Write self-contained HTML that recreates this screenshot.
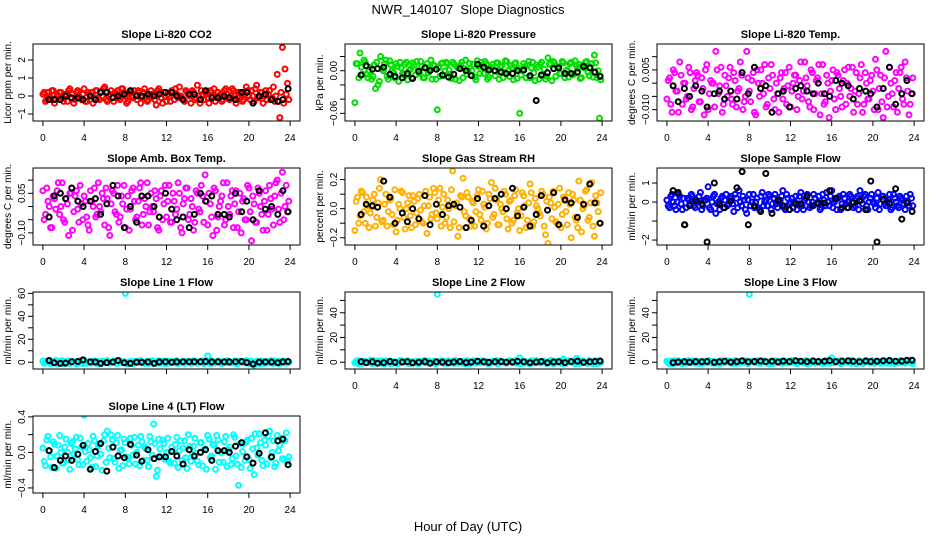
<!DOCTYPE html>
<html><head><meta charset="utf-8"><title>NWR_140107 Slope Diagnostics</title>
<style>
html,body{margin:0;padding:0;background:#fff;}
svg{display:block;font-family:"Liberation Sans",Arial,sans-serif;}
</style></head>
<body>
<svg id="chart" width="936" height="540" viewBox="0 0 936 540" xmlns="http://www.w3.org/2000/svg">
<rect x="0" y="0" width="936" height="540" fill="#fff"/>
<text x="468" y="14" text-anchor="middle" font-size="13">NWR_140107&#160; Slope Diagnostics</text>
<text x="468" y="531" text-anchor="middle" font-size="13">Hour of Day (UTC)</text>
</svg>
<script>
// ---- shared time data ----
const hours = [0,0.25,0.5,0.75,1,1.25,1.5,1.75,2,2.25,2.5,2.75,3,3.25,3.5,3.75,4,4.25,4.5,4.75,5,5.25,5.5,5.75,6,6.25,6.5,6.75,7,7.25,7.5,7.75,8,8.25,8.5,8.75,9,9.25,9.5,9.75,10,10.25,10.5,10.75,11,11.25,11.5,11.75,12,12.25,12.5,12.75,13,13.25,13.5,13.75,14,14.25,14.5,14.75,15,15.25,15.5,15.75,16,16.25,16.5,16.75,17,17.25,17.5,17.75,18,18.25,18.5,18.75,19,19.25,19.5,19.75,20,20.25,20.5,20.75,21,21.25,21.5,21.75,22,22.25,22.5,22.75,23,23.25,23.5,23.75];
const hours2 = [0.125,0.375,0.625,0.875,1.125,1.375,1.625,1.875,2.125,2.375,2.625,2.875,3.125,3.375,3.625,3.875,4.125,4.375,4.625,4.875,5.125,5.375,5.625,5.875,6.125,6.375,6.625,6.875,7.125,7.375,7.625,7.875,8.125,8.375,8.625,8.875,9.125,9.375,9.625,9.875,10.125,10.375,10.625,10.875,11.125,11.375,11.625,11.875,12.125,12.375,12.625,12.875,13.125,13.375,13.625,13.875,14.125,14.375,14.625,14.875,15.125,15.375,15.625,15.875,16.125,16.375,16.625,16.875,17.125,17.375,17.625,17.875,18.125,18.375,18.625,18.875,19.125,19.375,19.625,19.875,20.125,20.375,20.625,20.875,21.125,21.375,21.625,21.875,22.125,22.375,22.625,22.875,23.125,23.375,23.625,23.875];
const blackHours = [0.6,1.1,1.7,2.2,2.8,3.4,3.9,4.6,5.1,5.6,6.2,6.8,7.3,7.9,8.5,9.1,9.6,10.2,10.8,11.3,11.9,12.5,13.0,13.6,14.2,14.7,15.3,15.8,16.4,17.0,17.6,18.1,18.7,19.3,19.8,20.4,21.0,21.6,22.2,22.8,23.3,23.8];
const xTicks = [0,4,8,12,16,20,24];

// ---- series values ----
const co2Vals = [0.1,-0.3,0.2,-0.1,0.3,-0.2,0.0,0.2,-0.3,0.1,0.3,-0.1,
-0.4,0.2,0.0,-0.2,0.4,-0.3,0.1,0.2,-0.1,0.3,-0.2,0.0,
0.5,-0.3,0.1,-0.1,0.2,0.3,-0.2,0.4,0.0,-0.3,0.2,-0.1,
0.1,0.3,-0.4,0.2,0.0,-0.2,0.3,0.1,-0.5,0.4,-0.1,0.2,
-0.3,0.0,0.3,-0.2,0.1,0.5,-0.1,-0.3,0.2,0.0,0.3,-0.2,
0.6,-0.4,0.1,0.2,-0.1,0.3,0.0,-0.3,0.2,0.1,-0.2,0.4,
-0.1,0.0,0.3,-0.4,0.2,0.1,-0.2,0.5,0.0,0.3,-0.3,0.6,
-0.1,0.2,0.0,-0.2,0.3,-0.1,-0.3,1.2,-1.2,2.7,1.5,0.7];
const co2Vals2 = [0.2,-0.2,0.0,0.3,-0.4,0.1,0.2,-0.1,0.0,-0.3,0.4,0.1,
-0.2,0.3,-0.1,0.1,-0.3,0.2,0.0,-0.4,0.3,-0.1,0.2,0.4,
-0.2,0.0,0.3,-0.3,0.1,-0.1,0.4,0.2,-0.4,0.1,0.0,0.3,
-0.2,0.2,-0.1,0.4,-0.3,0.0,0.1,-0.2,0.3,0.2,-0.4,0.0,
0.1,-0.3,0.2,0.4,-0.1,0.0,-0.2,0.3,0.1,-0.4,0.2,-0.1,
0.0,0.3,-0.2,0.1,-0.4,0.2,0.4,-0.1,0.0,-0.3,0.3,0.1,
-0.2,0.4,0.0,-0.1,0.2,-0.3,0.1,0.3,-0.2,0.0,0.4,-0.1,
0.2,-0.4,0.3,0.1,-0.2,0.5,0.0,-0.3,0.2,-0.4,0.1,-0.2];
const co2Black = [-0.2,-0.2,-0.2,0.0,-0.1,-0.1,-0.2,0.0,-0.2,0.2,0.2,-0.1,
0.0,0.1,0.3,0.0,0.0,0.1,0.0,0.1,0.2,0.2,0.0,-0.2,
0.1,0.1,-0.2,0.3,-0.1,-0.1,0.0,-0.1,-0.2,0.2,0.2,-0.4,
0.0,0.1,-0.2,-0.3,-0.2,0.4];

const presVals = [-0.045,0.01,0.025,-0.005,0.012,-0.01,0.005,-0.008,-0.025,-0.02,0.02,0.0,
0.015,-0.012,0.008,-0.003,0.01,-0.015,0.004,-0.006,0.012,0.0,-0.01,0.008,
0.013,-0.004,0.006,-0.01,0.01,0.002,-0.012,0.007,-0.055,-0.008,0.011,0.0,
0.01,-0.005,0.012,-0.012,0.004,0.008,-0.01,0.015,0.0,-0.006,0.009,-0.013,
0.006,0.012,-0.004,0.01,-0.009,0.005,0.0,0.011,-0.012,0.007,-0.003,0.013,
-0.008,0.004,0.01,-0.011,-0.06,0.0,0.006,0.008,-0.01,0.012,-0.014,0.005,
0.009,-0.006,-0.012,0.018,0.01,0.013,-0.008,0.005,-0.004,0.011,0.0,-0.009,
0.012,-0.005,0.007,0.009,-0.01,0.004,0.013,-0.007,0.01,0.022,-0.01,-0.067];
const presVals2 = [0.01,-0.01,0.005,0.015,-0.005,0.0,-0.012,0.008,0.012,-0.015,0.003,0.01,
-0.008,0.014,0.0,-0.01,0.006,0.012,-0.004,0.009,-0.013,0.002,0.011,-0.006,
0.0,0.013,-0.01,0.005,-0.003,0.015,0.008,-0.012,0.004,0.01,-0.007,0.012,
0.001,-0.011,0.009,0.006,-0.014,0.012,0.003,-0.005,0.01,0.0,-0.009,0.014,
-0.004,0.008,0.013,-0.012,0.002,0.009,-0.007,0.011,0.005,-0.01,0.014,0.0,
0.007,-0.013,0.011,0.003,-0.006,0.01,-0.01,0.013,0.004,-0.003,0.008,-0.012,
0.012,0.002,-0.008,0.009,-0.014,0.011,0.006,-0.004,0.013,-0.01,0.001,0.01,
-0.006,0.014,0.003,-0.011,0.008,0.012,-0.002,0.005,-0.009,0.011,0.0,-0.013];
const presBlack = [-0.006,0.007,0.002,0.003,0.005,-0.005,-0.008,-0.01,-0.004,-0.011,-0.001,0.004,
0.0,0.002,-0.006,-0.009,-0.005,0.003,0.0,-0.007,0.009,0.005,0.001,0.0,
-0.002,-0.004,-0.004,0.0,0.001,-0.007,-0.042,-0.006,-0.003,0.003,0.004,-0.004,
-0.004,-0.002,0.006,0.004,-0.002,-0.008];

const tempVals = [-0.006,0.002,-0.011,0.004,-0.003,0.008,-0.008,0.0,-0.005,0.004,-0.009,0.001,
0.003,-0.007,-0.002,0.005,-0.01,0.001,0.0,0.012,-0.004,0.006,-0.008,-0.001,
0.002,-0.006,0.004,-0.009,-0.002,0.003,-0.007,0.012,-0.003,0.001,-0.011,0.005,
-0.005,0.0,0.007,-0.008,-0.002,0.003,-0.01,-0.004,0.002,-0.006,0.004,-0.001,
-0.009,0.0,0.003,-0.005,0.008,-0.003,0.002,-0.007,0.005,-0.01,0.001,0.007,
-0.004,-0.008,0.003,-0.013,0.001,-0.006,0.004,-0.002,-0.009,0.005,0.0,-0.005,
0.006,-0.003,-0.008,0.002,-0.011,0.004,-0.006,0.001,-0.003,0.009,-0.01,0.003,
-0.013,0.012,-0.005,0.0,-0.009,0.004,-0.002,0.006,-0.008,0.002,-0.012,-0.004];
const tempVals2 = [0.001,-0.008,0.005,-0.003,-0.011,0.003,0.0,-0.006,0.006,-0.01,-0.002,0.004,
-0.007,0.002,-0.012,0.007,-0.004,0.0,-0.009,0.005,-0.001,-0.011,0.003,-0.005,
0.006,-0.008,0.001,-0.003,0.008,-0.01,-0.005,0.002,-0.007,0.004,-0.012,0.0,
0.005,-0.004,-0.009,0.002,0.007,-0.006,0.0,-0.011,0.004,-0.002,-0.008,0.006,
-0.003,0.003,-0.01,0.001,-0.006,0.008,-0.001,-0.009,0.004,-0.004,0.002,-0.012,
0.007,-0.007,0.0,-0.003,0.005,-0.01,0.003,-0.005,0.001,-0.008,0.006,-0.002,
-0.011,0.004,-0.004,0.007,-0.008,0.0,-0.006,0.003,-0.01,0.005,-0.002,-0.007,
0.002,-0.009,0.006,-0.004,0.001,-0.011,0.004,-0.006,0.008,-0.003,-0.008,0.002];
const tempBlack = [-0.001,-0.007,-0.002,-0.005,-0.001,-0.003,-0.009,-0.004,-0.003,-0.006,-0.003,-0.006,
0.004,-0.004,0.006,-0.002,-0.001,-0.011,-0.004,-0.003,-0.009,-0.002,-0.001,-0.003,
-0.004,0.0,-0.004,-0.005,0.001,0.0,-0.001,-0.006,-0.002,-0.003,-0.004,-0.009,
-0.002,0.006,-0.008,-0.004,0.001,-0.004];

const ambVals = [0.06,-0.03,0.02,-0.08,0.04,-0.01,0.09,0.0,-0.05,0.03,-0.11,0.05,
-0.02,0.06,-0.06,0.01,0.04,-0.04,-0.09,0.02,0.07,-0.03,0.0,0.05,
-0.07,0.03,-0.11,0.06,-0.02,0.08,-0.04,0.01,-0.08,0.04,-0.01,0.07,
-0.05,0.02,0.09,-0.03,0.0,-0.07,0.05,-0.02,0.03,-0.09,0.06,0.01,
-0.04,0.08,-0.06,0.02,-0.01,0.05,-0.1,0.03,0.07,-0.03,0.0,-0.06,
0.05,-0.02,0.04,0.12,-0.07,0.01,-0.11,0.06,-0.04,0.02,0.09,-0.05,
0.0,0.04,-0.08,0.06,-0.02,-0.1,0.03,-0.05,0.07,-0.13,0.01,-0.06,
0.05,-0.03,0.02,-0.09,0.08,-0.01,0.04,0.1,-0.06,0.13,0.0,-0.02];
const ambVals2 = [-0.05,0.07,0.0,-0.08,0.03,0.06,-0.03,0.09,-0.06,0.01,0.05,-0.09,
0.04,-0.01,0.08,-0.05,0.02,-0.07,0.06,0.0,-0.04,0.09,-0.02,0.03,
0.07,-0.08,0.01,0.05,-0.03,-0.06,0.04,0.08,-0.01,-0.09,0.06,0.02,
-0.04,0.07,-0.07,0.03,0.09,-0.02,0.0,0.06,-0.08,0.04,-0.05,0.08,
0.02,-0.06,0.05,-0.03,0.09,-0.08,0.01,0.07,-0.05,0.03,-0.09,0.06,
-0.01,0.08,-0.06,0.02,0.05,-0.04,0.07,-0.09,0.0,0.04,-0.07,0.09,
-0.03,0.06,0.01,-0.08,0.05,0.02,-0.05,0.08,-0.02,0.04,-0.06,0.07,
0.0,-0.09,0.06,-0.03,0.03,-0.07,0.09,-0.01,0.05,-0.05,0.08,0.02];
const ambBlack = [-0.04,0.04,0.05,0.03,0.07,0.02,0.0,0.02,0.03,-0.03,0.01,0.08,
0.04,-0.08,0.0,-0.06,0.04,0.04,0.0,-0.04,0.05,-0.01,-0.05,-0.04,
-0.08,-0.03,0.05,0.02,0.04,-0.03,-0.03,-0.04,0.05,-0.02,0.02,-0.05,
0.06,-0.01,0.0,-0.03,0.06,-0.02];

const rhVals = [-0.15,0.08,-0.05,0.11,-0.1,0.02,-0.03,0.06,-0.12,0.04,0.2,-0.08,
0.1,-0.02,0.07,-0.11,-0.16,0.03,0.12,-0.06,0.0,0.09,-0.13,0.05,
-0.03,0.1,-0.09,0.02,-0.17,0.08,-0.04,0.11,-0.07,0.14,0.01,-0.1,
0.06,-0.13,0.26,0.02,-0.19,0.09,0.21,-0.05,0.08,-0.12,0.04,-0.02,
0.13,-0.08,0.03,-0.14,0.1,0.18,-0.04,0.06,-0.11,0.0,0.12,-0.07,
0.05,-0.1,0.09,-0.03,-0.15,0.11,0.02,-0.08,0.17,-0.12,0.07,0.0,
-0.05,0.1,-0.18,-0.24,0.04,0.12,-0.09,0.03,-0.13,0.08,-0.02,0.11,
-0.2,0.06,-0.08,0.19,-0.16,0.02,0.13,-0.06,0.18,-0.19,0.04,-0.1];
const rhVals2 = [0.05,-0.1,0.12,-0.02,0.08,-0.13,0.01,0.1,-0.06,0.14,-0.09,0.03,
-0.12,0.06,-0.04,0.13,-0.08,0.0,0.11,-0.14,0.04,-0.05,0.09,-0.11,
0.07,-0.01,-0.1,0.12,0.02,-0.07,0.14,-0.03,0.06,-0.12,0.1,-0.06,
0.0,0.13,-0.09,0.04,-0.13,0.08,-0.02,0.11,-0.07,0.05,-0.12,0.09,
-0.04,0.12,0.01,-0.1,0.07,-0.06,0.14,-0.11,0.03,-0.02,0.1,-0.14,
0.06,-0.08,0.13,0.0,-0.05,0.09,-0.13,0.04,0.11,-0.09,0.02,-0.03,
0.12,-0.12,0.05,0.08,-0.07,0.01,-0.1,0.14,-0.04,0.07,-0.11,0.03,
0.1,-0.06,-0.13,0.06,0.0,0.12,-0.08,0.04,-0.12,0.09,-0.02,0.11];
const rhBlack = [-0.04,0.03,0.02,0.01,0.19,0.08,-0.1,-0.03,-0.09,0.0,-0.07,0.09,
-0.11,0.03,-0.04,0.02,0.03,0.01,-0.13,-0.08,0.07,-0.12,0.02,0.07,
0.1,0.0,0.14,-0.05,0.01,-0.12,-0.04,0.09,-0.01,0.11,-0.11,0.06,
0.04,-0.06,0.03,0.17,0.04,-0.1];

const sampleVals = [0.1,-0.3,0.4,-0.2,0.0,0.3,-0.4,-1.2,0.2,-0.1,0.3,-0.3,
0.0,0.5,-0.2,0.1,0.8,-0.4,0.3,-0.6,0.0,0.2,-0.3,0.4,
-0.1,0.3,-0.5,0.2,0.6,-0.2,0.1,-0.6,0.4,0.0,-0.3,0.2,
-0.4,0.5,0.0,-0.2,0.3,-0.1,0.4,-0.3,0.1,0.6,-0.4,0.2,
0.0,-0.3,0.3,-0.1,0.5,-0.4,0.2,0.0,-0.2,0.4,-0.1,0.3,
-0.3,0.1,0.5,-0.2,0.6,0.0,-0.4,0.3,-0.1,0.2,-0.3,0.4,
0.0,-0.2,0.3,0.6,-0.1,0.4,-0.4,0.2,0.0,-0.3,0.5,-0.1,
0.3,-0.2,0.1,-0.4,0.4,0.0,-0.3,0.2,-0.1,0.3,-0.2,0.2];
const sampleVals2 = [-0.2,0.3,0.0,-0.4,0.4,-0.1,0.2,-0.3,0.1,0.4,-0.2,0.0,
0.3,-0.4,0.1,0.2,-0.3,0.0,0.4,-0.1,-0.4,0.3,0.1,-0.2,
0.2,-0.1,0.4,-0.3,0.0,0.3,-0.4,0.1,-0.2,0.4,0.0,-0.3,
0.3,-0.2,0.1,0.4,-0.4,0.2,-0.1,0.0,0.3,-0.3,0.4,-0.1,
0.2,0.0,-0.4,0.3,-0.2,0.1,0.4,-0.3,0.0,0.2,-0.1,-0.4,
0.4,-0.2,0.0,0.3,-0.3,0.1,0.2,-0.4,0.4,-0.1,0.0,0.3,
-0.3,0.2,-0.4,0.1,0.3,-0.2,0.0,0.4,-0.1,0.2,-0.4,0.3,
-0.1,0.0,0.4,-0.3,0.2,-0.2,0.3,0.1,-0.4,0.0,0.4,-0.2];
const sampleBlack = [0.6,0.5,-1.2,-0.2,0.1,-0.1,-2.1,1.0,-0.1,-0.3,0.05,0.75,
1.6,-1.2,-0.2,-0.5,1.5,-0.6,0.1,-0.2,-0.4,-0.1,-0.1,0.3,
-0.2,-0.05,-0.05,0.6,0.2,-0.3,-0.3,-0.05,0.05,-0.4,1.1,-2.1,
0.15,-0.05,0.7,-0.9,-0.05,-0.5];

const line1Vals = [1.0,-0.5,0.8,-1.2,0.3,1.5,-0.8,0.2,-1.0,0.6,1.2,-0.3,
0.5,-1.5,0.9,-0.2,1.3,-0.9,0.4,-0.6,1.1,-1.1,0.0,0.7,
-0.4,1.4,-0.7,0.3,0.9,-1.0,0.8,-0.3,60,-0.8,0.5,-1.3,
0.9,-0.2,1.5,-0.6,0.2,-1.1,1.0,0.4,-0.9,1.3,-0.5,0.6,
-1.2,0.8,0.1,-0.7,1.4,-0.3,0.5,-1.0,0.9,0.2,-0.6,1.1,
-0.8,0.3,1.2,-0.4,5.5,-1.2,0.7,-0.1,1.0,-0.9,0.4,-0.5,
1.3,-0.7,0.2,-1.1,0.8,0.5,-0.3,1.4,-1.0,0.6,-2.5,0.9,
-0.6,1.1,-1.3,0.4,0.7,-0.9,1.2,-0.2,-1.4,0.8,0.3,0.5];
const line1Vals2 = [-0.9,0.6,1.2,-0.4,0.0,-1.3,0.8,1.4,-0.7,0.3,-1.1,0.9,
0.2,-0.6,1.3,-1.2,0.5,0.1,-0.9,1.0,-0.3,0.7,-1.4,0.4,
1.1,-0.5,0.0,0.8,-1.0,1.5,-0.2,0.6,-1.3,0.3,0.9,-0.8,
0.4,1.2,-0.6,-1.1,0.7,0.0,1.4,-0.4,0.2,-0.9,1.1,-1.5,
0.8,-0.2,0.5,1.3,-1.2,0.1,-0.7,0.9,0.3,-1.0,1.2,-0.5,
0.0,1.0,-1.3,0.6,-0.3,1.4,-0.8,0.2,0.7,-1.1,0.4,1.3,
-0.6,0.1,0.9,-1.4,1.1,-0.2,0.5,-0.9,1.2,0.0,-0.7,0.8,
-1.2,0.6,0.3,-0.5,1.5,-1.0,0.2,0.9,-0.3,1.1,-0.8,0.0];
const line1Black = [1.5,-0.5,-1.0,-0.8,0.5,0.6,2.0,0.3,0.2,-1.0,-0.3,0.2,
1.5,-0.5,-1.0,0.1,0.0,0.3,-1.0,0.2,0.5,0.0,0.3,0.5,
0.4,0.5,0.5,0.6,0.3,0.4,0.3,0.3,0.5,0.6,-0.2,-1.5,
0.1,0.3,0.2,-0.5,0.3,0.6];

const line2Vals = [-0.6,1.2,0.3,-1.0,0.8,-0.4,1.5,-1.2,0.1,0.9,-0.7,0.4,
1.1,-0.3,-1.4,0.6,0.2,-0.8,1.0,-0.1,0.7,-1.1,0.5,-0.5,
0.9,-0.9,0.3,1.3,-0.2,-0.6,0.4,-1.2,55,0.0,-0.4,0.8,
-1.0,0.6,-0.2,1.4,-0.7,0.1,0.9,-1.3,0.5,-0.3,1.1,-0.8,
0.2,1.0,-0.5,0.7,-1.2,0.4,-0.1,1.3,-0.9,0.6,0.0,-0.6,
1.2,-0.4,0.5,-1.0,3.5,0.8,-0.7,0.3,-1.1,1.0,-0.2,0.6,
-0.8,0.9,0.1,-0.5,1.4,-1.3,0.6,-0.1,0.8,2.5,-0.9,1.2,
0.4,-0.6,3.0,-1.0,0.7,0.2,-0.8,1.1,-0.4,0.5,-1.2,0.9];
const line2Vals2 = [0.7,-1.2,0.2,1.0,-0.5,0.4,-0.9,1.3,0.0,-0.3,1.1,-1.4,
0.5,0.9,-0.7,0.1,-1.1,1.4,-0.2,0.6,1.2,-0.8,0.3,-0.4,
-1.3,0.8,0.4,-0.6,1.0,-0.1,0.7,-1.2,0.2,1.3,-0.9,0.5,
1.1,-0.3,-1.0,0.9,0.0,-0.7,0.6,1.4,-1.3,0.3,-0.2,0.8,
-0.6,1.2,0.4,-1.1,0.1,0.7,-0.4,-1.4,1.0,0.5,-0.8,0.2,
0.9,-0.5,1.3,-0.1,-1.2,0.6,0.3,-0.9,1.1,-0.6,1.4,0.0,
-0.3,0.8,-1.0,0.4,1.2,-0.7,0.1,0.9,-1.3,0.5,-0.2,1.0,
0.3,-1.1,0.7,-0.4,1.3,0.0,-0.8,0.6,-1.4,1.1,0.2,-0.5];
const line2Black = [0.5,-0.3,0.3,-0.8,-0.4,0.6,-0.2,0.2,0.4,-0.6,0.0,0.5,
-0.8,0.3,0.1,-0.5,0.2,0.6,-0.3,0.1,0.8,0.4,-0.2,0.3,
0.5,-0.1,0.2,0.7,0.3,-0.4,0.1,0.6,-0.5,0.2,0.4,-0.3,
0.5,0.9,-0.2,0.3,0.6,1.0];

const line3Vals = [0.8,-1.1,0.2,1.3,-0.6,0.5,-1.4,0.9,-0.2,0.4,1.1,-0.8,
-0.3,0.7,-1.0,0.1,1.2,-0.5,0.6,-0.9,0.3,1.4,-0.4,0.0,
1.0,-0.7,0.5,-1.2,0.4,0.2,-0.3,0.8,55,0.6,-0.1,1.3,
-0.9,0.4,0.9,-0.4,0.2,-1.3,1.1,-0.2,0.7,-0.8,0.3,1.0,
-0.5,1.2,-1.0,0.3,0.6,-0.6,1.4,0.0,-0.7,0.9,-0.3,0.5,
0.1,-1.2,0.8,-0.1,3.5,-0.5,0.4,1.1,-0.9,0.2,0.7,-0.4,
1.3,-0.8,0.0,0.6,-1.1,0.9,0.3,-0.6,1.2,-0.2,0.5,-1.0,
0.7,-0.3,1.0,-0.9,0.2,0.6,-0.5,1.1,-0.1,0.4,0.9,-0.7];
const line3Vals2 = [-0.4,0.9,-1.3,0.5,1.1,-0.2,0.3,-0.8,1.4,-0.6,0.0,1.0,
-1.1,0.2,0.7,-0.5,1.3,-0.9,0.4,0.1,-1.4,0.8,-0.3,1.2,
0.6,-1.0,1.4,-0.1,-0.7,0.3,1.1,-1.2,0.5,0.0,-0.4,0.9,
-0.8,1.3,0.2,-1.3,0.7,-0.2,1.0,0.4,-0.9,1.2,-0.6,0.1,
1.4,-0.3,-1.1,0.6,0.0,0.8,-1.4,0.5,1.1,-0.7,0.3,-0.5,
-1.0,1.3,0.2,-0.8,0.9,-0.1,0.4,-1.2,1.0,0.6,-0.3,-0.9,
0.7,-1.3,1.2,0.1,-0.6,1.4,-0.2,0.3,-1.0,0.8,0.5,-0.4,
1.1,-0.7,0.0,0.9,-1.2,0.4,1.3,-0.1,-0.8,0.6,0.2,-1.1];
const line3Black = [-0.3,0.2,0.4,-0.1,0.5,0.3,0.6,-0.2,0.4,0.7,0.1,0.5,
1.2,0.3,0.6,1.0,0.4,0.8,0.2,0.9,0.5,1.1,0.7,0.4,
1.0,0.6,0.8,1.3,0.5,0.9,1.1,0.7,0.4,1.0,0.6,0.8,
1.2,1.4,0.7,0.9,1.5,1.6];

const line4Vals = [0.05,-0.15,0.18,-0.05,0.12,-0.18,0.08,0.0,-0.12,0.15,-0.08,0.1,
-0.02,0.17,-0.14,0.06,0.42,-0.1,0.03,-0.17,0.13,-0.04,0.09,-0.2,
0.2,0.24,-0.06,0.14,-0.11,0.19,0.02,-0.15,0.11,-0.07,0.16,-0.03,
-0.13,0.08,0.18,-0.09,0.04,-0.16,0.12,0.32,-0.27,0.15,-0.05,0.1,
0.0,-0.1,0.06,-0.12,0.17,0.02,-0.09,0.13,-0.18,0.07,-0.02,0.16,
-0.1,0.11,-0.15,0.04,0.19,-0.06,0.09,-0.19,0.14,0.0,-0.11,0.18,
0.03,-0.14,0.2,-0.04,-0.37,-0.17,0.1,0.12,-0.08,0.16,-0.25,0.05,
0.21,-0.09,0.14,-0.13,0.24,0.0,-0.16,0.19,0.08,-0.07,0.13,-0.1];
const line4Vals2 = [-0.1,0.14,0.02,-0.17,0.09,-0.04,0.19,-0.12,0.06,0.0,-0.19,0.12,
0.04,-0.08,0.16,-0.14,0.01,0.1,-0.06,0.18,-0.16,0.07,-0.02,0.13,
-0.11,0.05,0.2,-0.07,0.11,-0.18,0.03,0.15,-0.05,-0.13,0.08,0.17,
0.0,-0.15,0.12,0.06,-0.09,0.18,-0.03,0.1,-0.2,0.04,0.14,-0.08,
0.16,-0.12,0.02,0.09,-0.17,0.13,0.05,-0.06,0.2,-0.1,0.07,-0.01,
-0.14,0.11,0.03,-0.19,0.15,-0.04,0.08,0.19,-0.11,0.0,0.12,-0.16,
0.06,-0.07,0.17,-0.13,0.1,0.01,-0.09,0.14,-0.18,0.04,0.21,-0.03,
0.11,-0.15,0.08,0.18,-0.06,0.13,-0.12,0.02,0.16,-0.08,0.22,-0.05];
const line4Black = [0.02,-0.17,-0.09,-0.04,-0.09,-0.02,0.08,-0.19,0.01,0.10,-0.21,0.06,
-0.04,-0.06,0.09,-0.03,-0.1,0.03,-0.07,-0.05,-0.05,0.01,-0.04,-0.13,
0.03,-0.04,0.0,0.03,-0.09,0.02,0.02,0.0,0.07,0.11,-0.05,-0.12,
-0.01,0.22,-0.05,0.13,0.15,-0.14];

// ---- y tick values and labels ----
const co2Ticks = [-1,0,1,2];            const co2Labels = ["\u22121","0","1","2"];
const presTicks = [0.02,0,-0.02,-0.04,-0.06]; const presLabels = ["","0.00","","","\u22120.06"];
const tempTicks = [0.01,0.005,0,-0.005,-0.01]; const tempLabels = ["","0.005","","","\u22120.010"];
const ambTicks = [0.1,0.05,0,-0.05,-0.1];      const ambLabels = ["","0.05","","","\u22120.10"];
const rhTicks = [0.2,0.1,0,-0.1,-0.2];         const rhLabels = ["0.2","","0.0","","\u22120.2"];
const sampleTicks = [1,0,-1,-2];               const sampleLabels = ["1","0","","\u22122"];
const line1Ticks = [0,10,20,30,40,50,60];      const line1Labels = ["0","","20","","40","","60"];
const line2Ticks = [0,10,20,30,40,50];         const line2Labels = ["0","","20","","40",""];
const line4Ticks = [-0.4,-0.2,0,0.2,0.4];      const line4Labels = ["\u22120.4","","0.0","","0.4"];

// ---- layout (not data) ----
const NS = "http://www.w3.org/2000/svg";
const svg = document.getElementById("chart");
const colL = [33, 345, 657];
const rowT = [44, 168, 292, 416];
const PW = 267, PH = 77;
const XMIN = -0.96, XMAX = 24.96;

const panels = [
 {key:"co2", title:"Slope Li-820 CO2", ylab:"Licor ppm per min.", c:0, r:0, ymin:-1.39, ymax:2.89, vals:co2Vals, vals2:co2Vals2, blk:co2Black, ticks:co2Ticks, labels:co2Labels, color:"#ff0000", xlab:true},
 {key:"pressure", title:"Slope Li-820 Pressure", ylab:"kPa per min.", c:1, r:0, ymin:-0.0708, ymax:0.0376, vals:presVals, vals2:presVals2, blk:presBlack, ticks:presTicks, labels:presLabels, color:"#00e000", xlab:true},
 {key:"li820-temp", title:"Slope Li-820 Temp.", ylab:"degrees C per min.", c:2, r:0, ymin:-0.0143, ymax:0.0148, vals:tempVals, vals2:tempVals2, blk:tempBlack, ticks:tempTicks, labels:tempLabels, color:"#ff00ff", xlab:true},
 {key:"amb-box-temp", title:"Slope Amb. Box Temp.", ylab:"degrees C per min.", c:0, r:1, ymin:-0.146, ymax:0.146, vals:ambVals, vals2:ambVals2, blk:ambBlack, ticks:ambTicks, labels:ambLabels, color:"#ff00ff", xlab:true},
 {key:"gas-rh", title:"Slope Gas Stream RH", ylab:"percent per min.", c:1, r:1, ymin:-0.25, ymax:0.28, vals:rhVals, vals2:rhVals2, blk:rhBlack, ticks:rhTicks, labels:rhLabels, color:"#ffb000", xlab:true},
 {key:"sample-flow", title:"Slope Sample Flow", ylab:"ml/min per min.", c:2, r:1, ymin:-2.26, ymax:1.79, vals:sampleVals, vals2:sampleVals2, blk:sampleBlack, ticks:sampleTicks, labels:sampleLabels, color:"#0000ff", xlab:true},
 {key:"line1-flow", title:"Slope Line 1 Flow", ylab:"ml/min per min.", c:0, r:2, ymin:-5.9, ymax:61.2, vals:line1Vals, vals2:line1Vals2, blk:line1Black, ticks:line1Ticks, labels:line1Labels, color:"#00ffff", xlab:false},
 {key:"line2-flow", title:"Slope Line 2 Flow", ylab:"ml/min per min.", c:1, r:2, ymin:-5.5, ymax:56.8, vals:line2Vals, vals2:line2Vals2, blk:line2Black, ticks:line2Ticks, labels:line2Labels, color:"#00ffff", xlab:true},
 {key:"line3-flow", title:"Slope Line 3 Flow", ylab:"ml/min per min.", c:2, r:2, ymin:-5.5, ymax:56.8, vals:line3Vals, vals2:line3Vals2, blk:line3Black, ticks:line2Ticks, labels:line2Labels, color:"#00ffff", xlab:true},
 {key:"line4-flow", title:"Slope Line 4 (LT) Flow", ylab:"ml/min per min.", c:0, r:3, ymin:-0.457, ymax:0.41, vals:line4Vals, vals2:line4Vals2, blk:line4Black, ticks:line4Ticks, labels:line4Labels, color:"#00ffff", xlab:true}
];

function mk(tag, attrs, parent){
  const e = document.createElementNS(NS, tag);
  for (const k in attrs) e.setAttribute(k, attrs[k]);
  (parent||svg).appendChild(e);
  return e;
}

panels.forEach(p => {
  const L = colL[p.c], T = rowT[p.r], B = T + PH, R = L + PW;
  const xs = v => L + (v - XMIN) / (XMAX - XMIN) * PW;
  const ys = v => B - (v - p.ymin) / (p.ymax - p.ymin) * PH;

  const g = mk("g", {});
  
  

  const clipId = "clip-" + p.key;
  const cp = mk("clipPath", {id: clipId}, g);
  mk("rect", {x: L, y: T, width: PW, height: PH}, cp);

  const title = mk("text", {x: (L + R) / 2, y: T - 6, "text-anchor": "middle", "font-size": 11, "font-weight": "bold"}, g);
  title.textContent = p.title;
  
  

  const yl = mk("text", {x: L - 22, y: (T + B) / 2, "text-anchor": "middle", "font-size": 10, transform: "rotate(-90 " + (L - 22) + " " + ((T + B) / 2) + ")"}, g);
  yl.textContent = p.ylab;
  
  

  const pts = mk("g", {"clip-path": "url(#" + clipId + ")"}, g);
  
  
  const n2 = Math.min(hours2.length, p.vals2.length);
  for (let i = 0; i < n2; i++) {
    const c = mk("circle", {cx: xs(hours2[i]).toFixed(1), cy: ys(p.vals2[i]).toFixed(1), r: 2.5, fill: "none", stroke: p.color, "stroke-width": 2}, pts);
    
    
  }
  const n = Math.min(hours.length, p.vals.length);
  for (let i = 0; i < n; i++) {
    const c = mk("circle", {cx: xs(hours[i]).toFixed(1), cy: ys(p.vals[i]).toFixed(1), r: 2.5, fill: "none", stroke: p.color, "stroke-width": 2}, pts);
    
    
  }
  const nb = Math.min(blackHours.length, p.blk.length);
  for (let i = 0; i < nb; i++) {
    const c = mk("circle", {cx: xs(blackHours[i]).toFixed(1), cy: ys(p.blk[i]).toFixed(1), r: 2.5, fill: "none", stroke: "#000", "stroke-width": 2}, pts);
    
    
  }

  const frame = mk("rect", {x: L, y: T, width: PW, height: PH, fill: "none", stroke: "#000", "stroke-width": 1}, g);
  
  

  xTicks.forEach(t => {
    const x = xs(t);
    const tk = mk("line", {x1: x, y1: B, x2: x, y2: B + 5, stroke: "#000", "stroke-width": 1}, g);
    
    
    if (p.xlab) {
      const tl = mk("text", {x: x, y: B + 20, "text-anchor": "middle", "font-size": 10}, g);
      tl.textContent = String(t);
      
      
    }
  });
  p.ticks.forEach((t, i) => {
    const y = ys(t);
    if (y < T - 0.5 || y > B + 0.5) return;
    const tk = mk("line", {x1: L - 5, y1: y, x2: L, y2: y, stroke: "#000", "stroke-width": 1}, g);
    
    
    if (p.labels[i]) {
      const tl = mk("text", {x: L - 8, y: y, "text-anchor": "middle", "font-size": 10, transform: "rotate(-90 " + (L - 8) + " " + y + ")"}, g);
      tl.textContent = p.labels[i];
      
      
    }
  });
});
</script>
</body></html>
